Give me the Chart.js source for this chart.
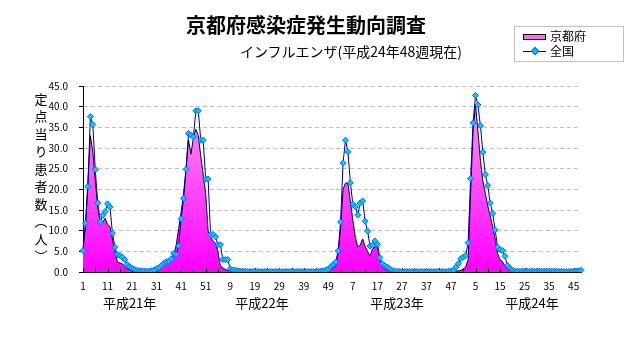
<!DOCTYPE html>
<html lang="ja">
<head>
<meta charset="utf-8">
<title>京都府感染症発生動向調査</title>
<script src="https://cdn.jsdelivr.net/npm/chart.js@4.4.0/dist/chart.umd.min.js"></script>
<style>
  html, body { margin: 0; padding: 0; background: #fff; }
  #wrap { position: relative; width: 632px; height: 348px; font-family: "Noto Sans CJK JP", sans-serif; color: #000; }
  #fluChart { position: absolute; left: 0; top: 0; }
  .txt { position: absolute; white-space: nowrap; line-height: 1; transform: translate(-50%, -50%); }
  #mainTitle { left: 306px; top: 25px; font-size: 20px; font-weight: bold; }
  #subTitle { left: 351px; top: 51px; font-size: 14px; }
  #yTitle { left: 41px; top: 180px; font-size: 13px; writing-mode: vertical-rl; letter-spacing: 4.5px; }
  .year { top: 302px; font-size: 13px; }
  #legendBox { position: absolute; left: 514px; top: 26px; width: 108px; height: 34px; border: 1px solid #c0c0c0; font-size: 12px; }
  #legendBox .label { position: absolute; left: 35px; line-height: 1; }
  #legendBox .area { position: absolute; left: 8px; top: 7px; width: 21px; height: 4px; border: 1px solid #000; background: #ff6ee0; }
  #legendBox .line { position: absolute; left: 8px; top: 24px; width: 23px; height: 1px; background: #000080; }
  #legendBox .mark { position: absolute; left: 17px; top: 21px; width: 4px; height: 4px; background: #00ccff; border: 1px solid #0066ff; transform: rotate(45deg); }
</style>
</head>
<body>
<div id="wrap">
  <canvas id="fluChart" width="632" height="348"></canvas>
  <div class="txt" id="mainTitle">京都府感染症発生動向調査</div>
  <div class="txt" id="subTitle">インフルエンザ(平成24年48週現在)</div>
  <div class="txt" id="yTitle">定点当り患者数（人）</div>
  <div id="legendBox">
    <span class="area"></span><span class="label" style="top:3px">京都府</span>
    <span class="line"></span><span class="mark"></span><span class="label" style="top:18px">全国</span>
  </div>
</div>
<script>
// 年ごとの週数と年表示
const weeksPerYear = [52, 52, 52, 48];
const yearNames = ['平成21年', '平成22年', '平成23年', '平成24年'];

// 定点当り患者数（京都府）
const kyoto2009 = [6.0, 11.0, 22.0, 33.0, 29.0, 22.0, 16.0, 12.0, 12.0, 13.0,
  11.5, 11.0, 8.0, 5.0, 2.5, 2.2, 2.0, 1.3, 0.8, 0.6,
  0.4, 0.3, 0.2, 0.1, 0.1, 0.1, 0.1, 0.2, 0.3, 0.5,
  0.8, 1.3, 1.8, 2.0, 2.4, 2.6, 3.2, 4.0, 6.5, 10.5,
  14.5, 19.0, 25.0, 32.0, 28.5, 32.5, 34.5, 33.0, 28.0, 23.5,
  19.0, 10.0];
const kyoto2010 = [8.5, 7.5, 7.0, 5.0, 1.5, 1.0, 0.6, 0.4, 0.3, 0.2,
  0.1, 0.1, 0.1, 0.1, 0.1, 0.1, 0.0, 0.0, 0.0, 0.0,
  0.0, 0.0, 0.0, 0.0, 0.0, 0.0, 0.0, 0.0, 0.0, 0.0,
  0.0, 0.0, 0.0, 0.0, 0.0, 0.0, 0.0, 0.0, 0.0, 0.0,
  0.0, 0.0, 0.0, 0.0, 0.0, 0.1, 0.2, 0.3, 0.4, 0.6,
  0.9, 1.5];
const kyoto2011 = [4.5, 10.5, 20.0, 21.5, 21.5, 17.0, 12.5, 8.5, 6.0, 6.5,
  8.0, 6.2, 5.0, 3.8, 5.5, 6.0, 6.2, 2.8, 1.3, 0.8,
  0.5, 0.3, 0.2, 0.1, 0.0, 0.0, 0.0, 0.0, 0.0, 0.0,
  0.0, 0.0, 0.0, 0.0, 0.0, 0.0, 0.0, 0.0, 0.0, 0.0,
  0.0, 0.0, 0.0, 0.0, 0.0, 0.0, 0.1, 0.1, 0.2, 0.3,
  0.4, 0.7];
const kyoto2012 = [1.2, 3.0, 19.0, 34.0, 40.5, 34.0, 27.0, 22.0, 19.0, 16.0,
  13.5, 11.0, 8.0, 4.5, 3.0, 2.5, 1.5, 0.8, 0.4, 0.2,
  0.1, 0.0, 0.0, 0.0, 0.0, 0.0, 0.0, 0.0, 0.0, 0.0,
  0.0, 0.0, 0.0, 0.0, 0.0, 0.0, 0.0, 0.0, 0.0, 0.0,
  0.0, 0.0, 0.0, 0.0, 0.0, 0.1, 0.1, 0.2];

// 定点当り患者数（全国）
const zenkoku2009 = [5.2, 11.8, 20.7, 37.6, 35.7, 24.8, 16.7, 12.1, 13.7, 14.6,
  16.5, 15.7, 9.4, 6.0, 4.2, 4.0, 3.6, 3.0, 1.8, 1.3,
  0.9, 0.6, 0.4, 0.3, 0.3, 0.2, 0.2, 0.2, 0.3, 0.5,
  0.8, 1.1, 1.6, 2.1, 2.5, 2.6, 3.2, 4.5, 4.2, 6.3,
  12.9, 17.8, 24.8, 33.5, 33.1, 32.7, 39.0, 39.0, 31.9, 31.9,
  22.5, 22.5];
const zenkoku2010 = [9.1, 9.1, 8.5, 6.6, 6.6, 3.0, 3.0, 3.0, 0.8, 0.5,
  0.4, 0.3, 0.2, 0.2, 0.2, 0.1, 0.1, 0.1, 0.1, 0.1,
  0.1, 0.1, 0.1, 0.1, 0.1, 0.1, 0.1, 0.1, 0.1, 0.1,
  0.1, 0.1, 0.1, 0.1, 0.1, 0.1, 0.1, 0.1, 0.1, 0.1,
  0.1, 0.1, 0.1, 0.1, 0.2, 0.2, 0.3, 0.5, 0.7, 1.3,
  1.8, 2.4];
const zenkoku2011 = [5.1, 12.1, 26.4, 31.9, 29.1, 21.6, 16.4, 15.8, 13.8, 16.7,
  17.2, 12.3, 9.9, 6.3, 6.4, 7.5, 6.7, 3.5, 2.0, 1.5,
  1.2, 0.8, 0.4, 0.2, 0.2, 0.1, 0.1, 0.1, 0.1, 0.1,
  0.1, 0.1, 0.1, 0.1, 0.1, 0.1, 0.1, 0.1, 0.1, 0.1,
  0.1, 0.1, 0.1, 0.1, 0.1, 0.2, 0.2, 0.4, 1.2, 2.0,
  3.2, 3.6];
const zenkoku2012 = [4.0, 7.1, 22.6, 36.1, 42.7, 40.4, 35.4, 29.0, 23.6, 20.9,
  16.7, 14.2, 10.2, 6.0, 5.4, 5.2, 3.8, 1.6, 1.0, 0.5,
  0.2, 0.2, 0.2, 0.2, 0.2, 0.2, 0.2, 0.2, 0.2, 0.2,
  0.2, 0.2, 0.2, 0.2, 0.2, 0.2, 0.2, 0.2, 0.1, 0.1,
  0.1, 0.1, 0.1, 0.1, 0.2, 0.2, 0.3, 0.4];

// 縦軸の目盛
const yMin = 0, yMax = 45, yStep = 5;

// 横軸：週番号を通しで並べる
const weekLabels = [];
weeksPerYear.forEach(n => {
  for (let w = 1; w <= n; w++) weekLabels.push(String(w));
});
const kyoto = [].concat(kyoto2009, kyoto2010, kyoto2011, kyoto2012);
const zenkoku = [].concat(zenkoku2009, zenkoku2010, zenkoku2011, zenkoku2012);

// 年表示を置く週（通し番号）
const yearLabelAt = [19, 73, 128, 183];

// 京都府の塗り（上が淡いピンク、下がマゼンタ）
function pinkFill(context) {
  const { ctx, chartArea } = context.chart;
  if (!chartArea) return null;
  const g = ctx.createLinearGradient(0, chartArea.top, 0, chartArea.bottom);
  g.addColorStop(0, '#ffa6ea');
  g.addColorStop(1, '#ff00ff');
  return g;
}

// 横軸の目盛線（内向き、5週ごと）
const innerTicks = {
  id: 'innerTicks',
  afterDatasetDraw(chart, args) {
    if (args.index !== 0) return;
    const xs = chart.scales.x;
    const bottom = chart.chartArea.bottom;
    const ctx = chart.ctx;
    ctx.save();
    ctx.strokeStyle = '#000';
    ctx.lineWidth = 1;
    ctx.beginPath();
    for (let i = 0; i < weekLabels.length; i += 5) {
      const px = Math.round(xs.getPixelForValue(i)) + 0.5;
      ctx.moveTo(px, bottom);
      ctx.lineTo(px, bottom - 4);
    }
    ctx.stroke();
    ctx.restore();
  }
};

Chart.defaults.font.family = '"Noto Sans CJK JP", sans-serif';
Chart.defaults.color = '#000';

const chart = new Chart(document.getElementById('fluChart').getContext('2d'), {
  type: 'line',
  data: {
    labels: weekLabels,
    datasets: [{
      label: '京都府',
      data: kyoto,
      order: 1,
      fill: 'origin',
      backgroundColor: pinkFill,
      borderColor: '#000040',
      borderWidth: 1,
      pointRadius: 0,
      tension: 0
    }, {
      label: '全国',
      data: zenkoku,
      order: 0,
      fill: false,
      borderColor: '#000080',
      borderWidth: 1,
      pointStyle: 'rectRot',
      pointRadius: 3,
      pointBackgroundColor: '#00ccff',
      pointBorderColor: '#0066ff',
      pointBorderWidth: 1,
      tension: 0
    }]
  },
  options: {
    responsive: false,
    animation: false,
    devicePixelRatio: 1,
    layout: { padding: { top: 86, right: 51, bottom: 0, left: 0 } },
    plugins: { legend: { display: false }, tooltip: { enabled: false } },
    scales: {
      x: {
        type: 'category',
        offset: false,
        grid: { display: false, drawTicks: false },
        border: { display: true, color: '#000', width: 1 },
        ticks: {
          autoSkip: false,
          maxRotation: 0,
          padding: 8,
          font: { size: 10 },
          callback: (value, index) => index % 10 === 0 ? weekLabels[index] : ''
        },
        afterFit: scale => { scale.height = 76; }
      },
      y: {
        min: yMin,
        max: yMax,
        grid: { color: '#c0c0c0', tickLength: 4, tickColor: '#000', tickBorderDash: [] },
        border: { display: true, color: '#000', width: 1, dash: [4, 3] },
        ticks: {
          stepSize: yStep,
          padding: 11,
          font: { size: 10 },
          callback: v => v.toFixed(1)
        },
        afterFit: scale => { scale.width = 83; }
      }
    }
  },
  plugins: [innerTicks]
});

// 年表示を横軸の位置に合わせて置く
const wrap = document.getElementById('wrap');
yearNames.forEach((name, k) => {
  const el = document.createElement('div');
  el.className = 'txt year';
  el.textContent = name;
  el.style.left = chart.scales.x.getPixelForValue(yearLabelAt[k]) + 'px';
  wrap.appendChild(el);
});
</script>
</body>
</html>
